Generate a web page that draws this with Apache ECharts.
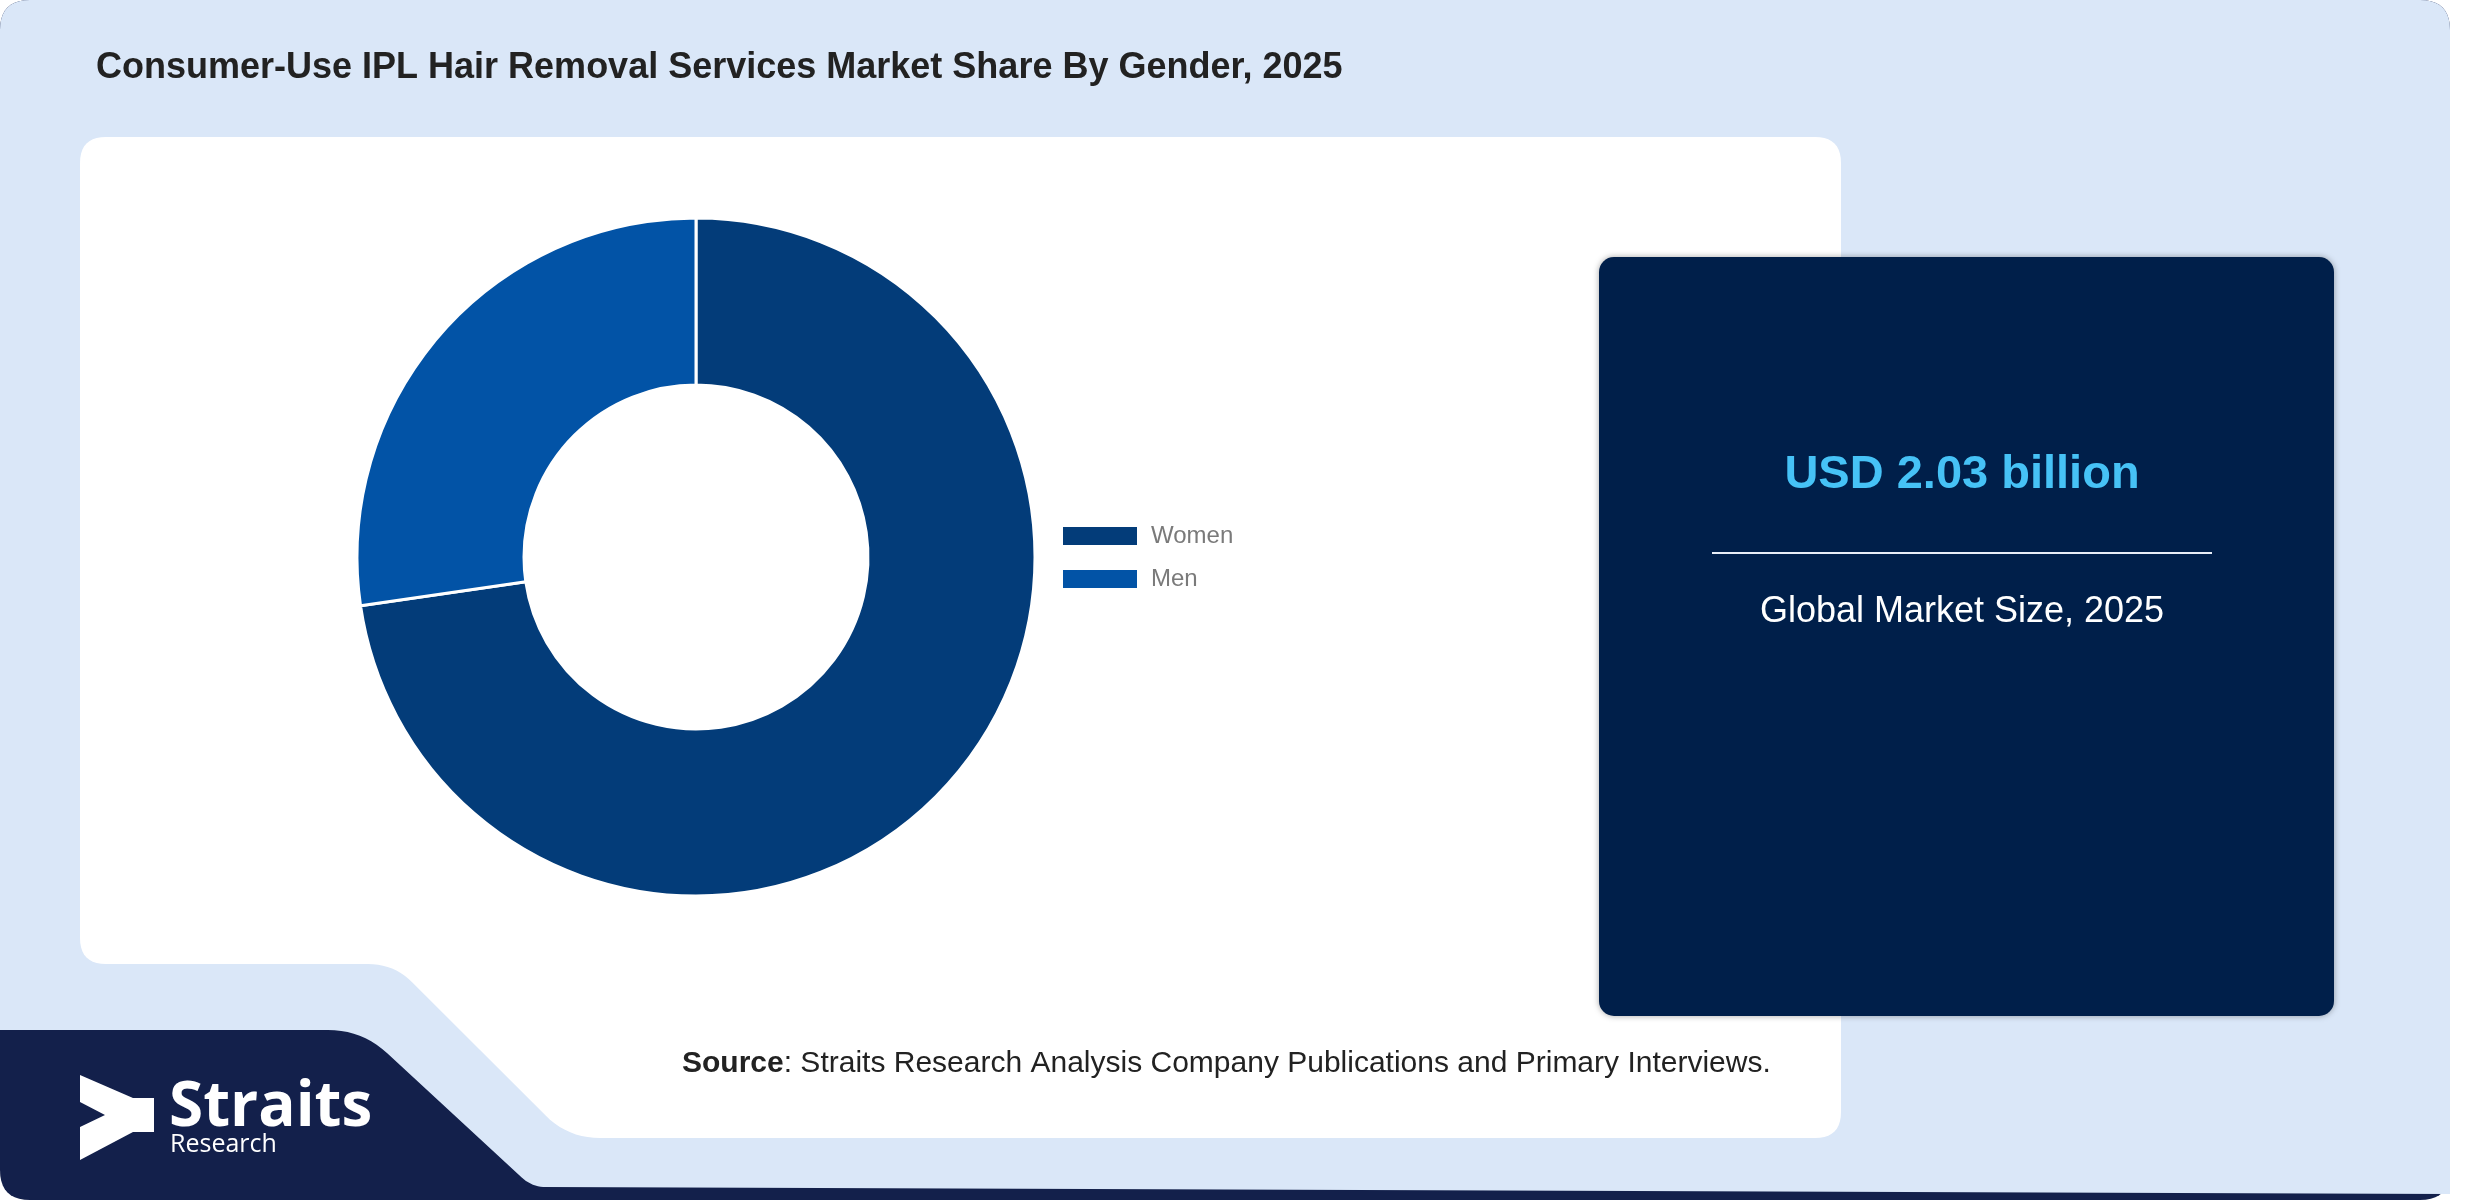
<!DOCTYPE html>
<html>
<head>
<meta charset="utf-8">
<script src="https://cdn.jsdelivr.net/npm/echarts@6/dist/echarts.min.js"></script>
<style>
html,body{margin:0;padding:0;background:#ffffff;}
#chart{width:2480px;height:1200px;}
</style>
</head>
<body>
<div id="chart"></div>
<script>
// ---- data ----
var titleText = 'Consumer-Use IPL Hair Removal Services Market Share By Gender, 2025';
var categories = ['Women', 'Men'];
var shares = [72.7, 27.3];
var sliceColors = ['#033c79', '#0253a6'];
var headlineValue = 'USD 2.03 billion';
var headlineLabel = 'Global Market Size, 2025';
var sourceBold = 'Source';
var sourceRest = ': Straits Research Analysis Company Publications and Primary Interviews.';
var logoMain = 'Straits';
var logoSub = 'Research';

// ---- helpers (shape geometry only) ----
function roundPoly(pts, radii) {
  var out = [];
  var n = pts.length;
  for (var i = 0; i < n; i++) {
    var p0 = pts[(i - 1 + n) % n], p1 = pts[i], p2 = pts[(i + 1) % n];
    var r = radii[i] || 0;
    if (!r) { out.push(p1); continue; }
    var v0x = p0[0] - p1[0], v0y = p0[1] - p1[1];
    var v2x = p2[0] - p1[0], v2y = p2[1] - p1[1];
    var l0 = Math.sqrt(v0x * v0x + v0y * v0y), l2 = Math.sqrt(v2x * v2x + v2y * v2y);
    var d = Math.min(r, l0 / 2, l2 / 2);
    var a = [p1[0] + v0x / l0 * d, p1[1] + v0y / l0 * d];
    var b = [p1[0] + v2x / l2 * d, p1[1] + v2y / l2 * d];
    var steps = 10;
    for (var s = 0; s <= steps; s++) {
      var t = s / steps, mt = 1 - t;
      out.push([
        mt * mt * a[0] + 2 * mt * t * p1[0] + t * t * b[0],
        mt * mt * a[1] + 2 * mt * t * p1[1] + t * t * b[1]
      ]);
    }
  }
  return out;
}

var FONT = '"Liberation Sans", Arial, sans-serif';

var chart = echarts.init(document.getElementById('chart'), null, {renderer: 'canvas'});

var pieData = categories.map(function (c, i) {
  return {name: c, value: shares[i], itemStyle: {color: sliceColors[i]}};
});

var option = {
  backgroundColor: '#ffffff',
  animation: false,
  graphic: [
    // navy base card (logo area + bottom strip)
    {
      type: 'polygon', z: 0, silent: true,
      shape: {points: roundPoly([[0, 0], [2450, 0], [2450, 1200], [0, 1200]], [30, 30, 30, 30])},
      style: {fill: '#13204b'}
    },
    // light blue card
    {
      type: 'polygon', z: 1, silent: true,
      shape: {points: roundPoly([[0, 0], [2450, 0], [2450, 1194], [532, 1187], [362, 1030], [0, 1030]], [30, 30, 0, 14, 34, 0])},
      style: {fill: '#dae7f8'}
    },
    // white panel
    {
      type: 'polygon', z: 2, silent: true,
      shape: {points: roundPoly([[80, 137], [1841, 137], [1841, 1138], [568, 1138], [394, 964], [80, 964]], [26, 26, 26, 32, 26, 26])},
      style: {fill: '#ffffff'}
    },
    // dark KPI box
    {
      type: 'rect', z: 3, silent: true,
      shape: {x: 1599, y: 257, width: 735, height: 759, r: 15},
      style: {fill: '#001f4a', shadowBlur: 6, shadowColor: 'rgba(0,0,0,0.35)'}
    },
    {
      type: 'text', z: 4, silent: true,
      style: {
        text: headlineValue, x: 1962, y: 475,
        fontSize: 47, fontWeight: 'bold', fontFamily: FONT,
        fill: '#46c2f6', align: 'center', verticalAlign: 'middle',
        textAlign: 'center', textVerticalAlign: 'middle'
      }
    },
    {
      type: 'line', z: 4, silent: true,
      shape: {x1: 1712, y1: 553, x2: 2212, y2: 553},
      style: {stroke: '#e8eef8', lineWidth: 2}
    },
    {
      type: 'text', z: 4, silent: true,
      style: {
        text: headlineLabel, x: 1962, y: 612,
        fontSize: 36, fontFamily: FONT,
        fill: '#ffffff', align: 'center', verticalAlign: 'middle',
        textAlign: 'center', textVerticalAlign: 'middle'
      }
    },
    // title
    {
      type: 'text', z: 4, silent: true,
      style: {
        text: titleText, x: 96, y: 68,
        fontSize: 36, fontWeight: 'bold', fontFamily: FONT,
        fill: '#222222', align: 'left', verticalAlign: 'middle',
        textAlign: 'left', textVerticalAlign: 'middle'
      }
    },
    // source
    {
      type: 'text', z: 4, silent: true,
      style: {
        text: '{b|' + sourceBold + '}' + sourceRest, x: 682, y: 1064,
        fontSize: 30, fontFamily: FONT,
        fill: '#222222', align: 'left', verticalAlign: 'middle',
        textAlign: 'left', textVerticalAlign: 'middle',
        rich: {b: {fontSize: 30, fontFamily: FONT, fontWeight: 'bold', fill: '#222222'}}
      }
    },
    // logo mark
    {
      type: 'polygon', z: 4, silent: true,
      shape: {points: [[80, 1075], [133, 1098], [154, 1098], [154, 1132], [133, 1132], [80, 1160], [80, 1127], [105, 1115], [80, 1102]]},
      style: {fill: '#ffffff'}
    },
    {
      type: 'text', z: 4, silent: true,
      style: {
        text: logoMain, x: 169, y: 1108,
        fontSize: 62, fontWeight: 'bold', fontFamily: '"Open Sans", "Noto Sans", sans-serif',
        fill: '#ffffff', align: 'left', verticalAlign: 'middle',
        textAlign: 'left', textVerticalAlign: 'middle'
      }
    },
    {
      type: 'text', z: 4, silent: true,
      style: {
        text: logoSub, x: 170, y: 1145,
        fontSize: 25, fontFamily: '"Open Sans", "Noto Sans", sans-serif',
        fill: '#ffffff', align: 'left', verticalAlign: 'middle',
        textAlign: 'left', textVerticalAlign: 'middle'
      }
    }
  ],
  legend: {
    orient: 'vertical',
    left: 1061,
    top: 524,
    padding: 0,
    itemWidth: 76,
    itemHeight: 20,
    itemGap: 19,
    icon: 'rect',
    data: categories,
    textStyle: {fontSize: 24, color: '#7a7a7a', fontFamily: FONT, padding: [0, 0, 0, 8]},
    z: 10
  },
  series: [{
    type: 'pie',
    z: 10,
    center: [696, 557],
    radius: [172, 339],
    startAngle: 90,
    clockwise: true,
    avoidLabelOverlap: false,
    label: {show: false},
    labelLine: {show: false},
    emphasis: {disabled: true},
    itemStyle: {borderColor: '#ffffff', borderWidth: 3},
    data: pieData
  }]
};
chart.setOption(option);
</script>
</body>
</html>
